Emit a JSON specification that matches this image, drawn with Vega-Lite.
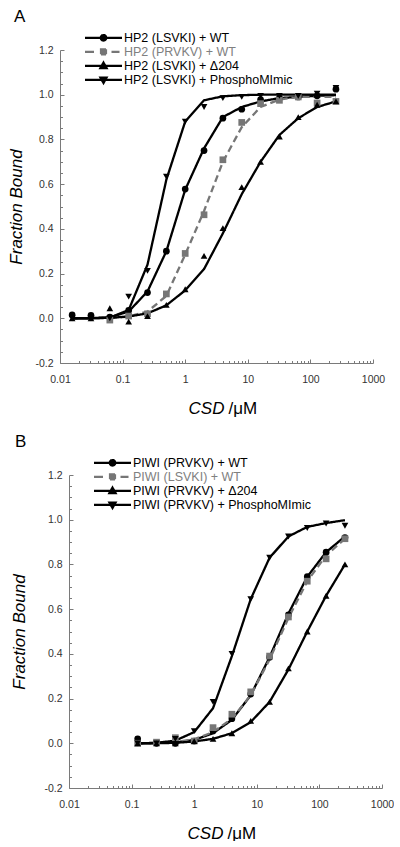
{
  "$schema": "https://vega.github.io/schema/vega-lite/v6.json",
  "background": "white",
  "padding": {"left": 7, "top": 8, "right": 0, "bottom": 0},
  "spacing": 17,
  "config": {
    "view": {"stroke": null},
    "font": "Liberation Sans",
    "axis": {
      "grid": false,
      "labelFont": "Liberation Sans",
      "labelFontSize": 10.5,
      "labelColor": "#333333",
      "domainColor": "#7a7a7a",
      "tickColor": "#7a7a7a",
      "titleFont": "Liberation Sans",
      "titleFontSize": 17,
      "titleFontWeight": "normal",
      "titleColor": "black"
    }
  },
  "resolve": {
    "scale": {"color": "independent", "shape": "independent", "strokeDash": "independent", "opacity": "independent"},
    "legend": {"color": "independent", "opacity": "independent"}
  },
  "vconcat": [
    {
      "width": 313,
      "height": 313,
      "title": {"text": "A", "anchor": "start", "frame": "group", "dx": -46, "offset": 5.3, "fontSize": 17, "fontWeight": "normal", "font": "Liberation Sans", "color": "black"},
      "data": {"values": [
        {"series": "HP2 (LSVKI) + WT", "conc": 0.015625, "bound": 0.015, "fit": 0.0},
        {"series": "HP2 (LSVKI) + WT", "conc": 0.03125, "bound": 0.013, "fit": 0.001},
        {"series": "HP2 (LSVKI) + WT", "conc": 0.0625, "bound": 0.005, "fit": 0.004},
        {"series": "HP2 (LSVKI) + WT", "conc": 0.125, "bound": 0.035, "fit": 0.03},
        {"series": "HP2 (LSVKI) + WT", "conc": 0.25, "bound": 0.115, "fit": 0.12},
        {"series": "HP2 (LSVKI) + WT", "conc": 0.5, "bound": 0.30, "fit": 0.30},
        {"series": "HP2 (LSVKI) + WT", "conc": 1, "bound": 0.578, "fit": 0.575},
        {"series": "HP2 (LSVKI) + WT", "conc": 2, "bound": 0.75, "fit": 0.76},
        {"series": "HP2 (LSVKI) + WT", "conc": 4, "bound": 0.895, "fit": 0.90},
        {"series": "HP2 (LSVKI) + WT", "conc": 8, "bound": 0.935, "fit": 0.945},
        {"series": "HP2 (LSVKI) + WT", "conc": 16, "bound": 0.978, "fit": 0.97},
        {"series": "HP2 (LSVKI) + WT", "conc": 32, "bound": 0.985, "fit": 0.985},
        {"series": "HP2 (LSVKI) + WT", "conc": 64, "bound": 0.99, "fit": 0.99},
        {"series": "HP2 (LSVKI) + WT", "conc": 128, "bound": 0.995, "fit": 0.995},
        {"series": "HP2 (LSVKI) + WT", "conc": 256, "bound": 1.025, "fit": 0.998},
        {"series": "HP2 (PRVKV) + WT", "conc": 0.0625, "bound": -0.008, "fit": 0.0},
        {"series": "HP2 (PRVKV) + WT", "conc": 0.125, "bound": 0.01, "fit": 0.008},
        {"series": "HP2 (PRVKV) + WT", "conc": 0.25, "bound": 0.02, "fit": 0.03},
        {"series": "HP2 (PRVKV) + WT", "conc": 0.5, "bound": 0.109, "fit": 0.1},
        {"series": "HP2 (PRVKV) + WT", "conc": 1, "bound": 0.29, "fit": 0.285},
        {"series": "HP2 (PRVKV) + WT", "conc": 2, "bound": 0.463, "fit": 0.48},
        {"series": "HP2 (PRVKV) + WT", "conc": 4, "bound": 0.709, "fit": 0.70},
        {"series": "HP2 (PRVKV) + WT", "conc": 8, "bound": 0.876, "fit": 0.855},
        {"series": "HP2 (PRVKV) + WT", "conc": 16, "bound": 0.96, "fit": 0.945},
        {"series": "HP2 (PRVKV) + WT", "conc": 32, "bound": 0.975, "fit": 0.978},
        {"series": "HP2 (PRVKV) + WT", "conc": 64, "bound": 0.99, "fit": 0.99},
        {"series": "HP2 (PRVKV) + WT", "conc": 128, "bound": 0.963, "fit": 0.99},
        {"series": "HP2 (PRVKV) + WT", "conc": 256, "bound": 0.97, "fit": 0.99},
        {"series": "HP2 (LSVKI) + Δ204", "conc": 0.015625, "bound": 0.0, "fit": 0.0},
        {"series": "HP2 (LSVKI) + Δ204", "conc": 0.03125, "bound": 0.0, "fit": 0.0},
        {"series": "HP2 (LSVKI) + Δ204", "conc": 0.0625, "bound": 0.045, "fit": 0.002},
        {"series": "HP2 (LSVKI) + Δ204", "conc": 0.125, "bound": -0.015, "fit": 0.008},
        {"series": "HP2 (LSVKI) + Δ204", "conc": 0.25, "bound": 0.01, "fit": 0.022},
        {"series": "HP2 (LSVKI) + Δ204", "conc": 0.5, "bound": 0.06, "fit": 0.058},
        {"series": "HP2 (LSVKI) + Δ204", "conc": 1, "bound": 0.13, "fit": 0.125},
        {"series": "HP2 (LSVKI) + Δ204", "conc": 2, "bound": 0.279, "fit": 0.22},
        {"series": "HP2 (LSVKI) + Δ204", "conc": 4, "bound": 0.403, "fit": 0.38},
        {"series": "HP2 (LSVKI) + Δ204", "conc": 8, "bound": 0.587, "fit": 0.555},
        {"series": "HP2 (LSVKI) + Δ204", "conc": 16, "bound": 0.70, "fit": 0.70},
        {"series": "HP2 (LSVKI) + Δ204", "conc": 32, "bound": 0.813, "fit": 0.82},
        {"series": "HP2 (LSVKI) + Δ204", "conc": 64, "bound": 0.90, "fit": 0.895},
        {"series": "HP2 (LSVKI) + Δ204", "conc": 128, "bound": 0.955, "fit": 0.945},
        {"series": "HP2 (LSVKI) + Δ204", "conc": 256, "bound": 0.97, "fit": 0.97},
        {"series": "HP2 (LSVKI) + PhosphoMImic", "conc": 0.015625, "bound": 0.0, "fit": 0.0},
        {"series": "HP2 (LSVKI) + PhosphoMImic", "conc": 0.03125, "bound": 0.0, "fit": 0.0},
        {"series": "HP2 (LSVKI) + PhosphoMImic", "conc": 0.0625, "bound": 0.0, "fit": 0.003},
        {"series": "HP2 (LSVKI) + PhosphoMImic", "conc": 0.125, "bound": 0.097, "fit": 0.037},
        {"series": "HP2 (LSVKI) + PhosphoMImic", "conc": 0.25, "bound": 0.212, "fit": 0.24},
        {"series": "HP2 (LSVKI) + PhosphoMImic", "conc": 0.5, "bound": 0.634, "fit": 0.62},
        {"series": "HP2 (LSVKI) + PhosphoMImic", "conc": 1, "bound": 0.88, "fit": 0.88},
        {"series": "HP2 (LSVKI) + PhosphoMImic", "conc": 2, "bound": 0.945, "fit": 0.975},
        {"series": "HP2 (LSVKI) + PhosphoMImic", "conc": 4, "bound": 0.985, "fit": 0.993},
        {"series": "HP2 (LSVKI) + PhosphoMImic", "conc": 8, "bound": 0.99, "fit": 0.998},
        {"series": "HP2 (LSVKI) + PhosphoMImic", "conc": 16, "bound": 0.995, "fit": 1.0},
        {"series": "HP2 (LSVKI) + PhosphoMImic", "conc": 32, "bound": 0.995, "fit": 1.0},
        {"series": "HP2 (LSVKI) + PhosphoMImic", "conc": 64, "bound": 0.995, "fit": 1.0},
        {"series": "HP2 (LSVKI) + PhosphoMImic", "conc": 128, "bound": 1.005, "fit": 1.0},
        {"series": "HP2 (LSVKI) + PhosphoMImic", "conc": 256, "bound": 1.03, "fit": 1.0}
      ]},
      "resolve": {"axis": {"x": "independent", "y": "independent"}},
      "layer": [
        {
          "mark": {"type": "line", "strokeWidth": 2.3},
          "encoding": {
            "x": {"field": "conc", "type": "quantitative",
              "scale": {"type": "log", "domain": [0.01, 1000], "nice": false},
              "axis": {"orient": "bottom", "values": [0.01, 0.1, 1, 10, 100, 1000], "labelExpr": "format(datum.value, '~g')", "tickSize": -4, "labelPadding": 15.5, "labelFlush": false, "labelOverlap": false,
                "title": "/μM", "titleX": 168, "titleY": 50, "titleAlign": "left", "titleBaseline": "alphabetic", "titleFontStyle": "normal"}},
            "y": {"field": "fit", "type": "quantitative",
              "scale": {"domain": [-0.2, 1.2], "nice": false, "zero": false},
              "axis": {"orient": "left", "values": [-0.2, 0, 0.2, 0.4, 0.6, 0.8, 1.0, 1.2], "labelExpr": "replace(format(datum.value, '.1f'), '\u2212', '-')", "tickSize": -4, "labelPadding": 11,
                "title": "Fraction Bound", "titleFontStyle": "italic", "titlePadding": 9.3}},
            "color": {"field": "series", "type": "nominal", "legend": null,
              "scale": {"domain": ["HP2 (LSVKI) + WT", "HP2 (PRVKV) + WT", "HP2 (LSVKI) + Δ204", "HP2 (LSVKI) + PhosphoMImic"], "range": ["black", "#767676", "black", "black"]}},
            "strokeDash": {"field": "series", "type": "nominal", "legend": null,
              "scale": {"domain": ["HP2 (LSVKI) + WT", "HP2 (PRVKV) + WT", "HP2 (LSVKI) + Δ204", "HP2 (LSVKI) + PhosphoMImic"], "range": [[1, 0], [7, 4], [1, 0], [1, 0]]}},
            "opacity": {"field": "series", "type": "nominal", "scale": {"range": [1, 1, 1, 1]},
              "legend": {"orient": "none", "legendX": 37, "legendY": -18.7, "title": null, "padding": 0, "symbolSize": 100, "symbolStrokeWidth": 2.2,
                "values": ["HP2 (LSVKI) + WT", "HP2 (PRVKV) + WT", "HP2 (LSVKI) + Δ204", "HP2 (LSVKI) + PhosphoMImic"],
                "labelFont": "Liberation Sans", "labelFontSize": 12.5, "labelOffset": 14, "labelLimit": 400, "rowPadding": -2.4,
                "encode": {
                  "symbols": {"update": {
                    "shape": {"signal": "datum.value === 'HP2 (LSVKI) + WT' ? 'M-3.7,0H3.7M-0.55,0A0.55,0.55 0 1,1 0.55,0A0.55,0.55 0 1,1 -0.55,0Z' : datum.value === 'HP2 (PRVKV) + WT' ? 'M-3.7,0H-1.9M1.6,0H3.2M-0.5,-0.5H0.5V0.5H-0.5Z' : datum.value === 'HP2 (LSVKI) + Δ204' ? 'M-3.7,0H3.7M0,-0.65L0.62,0.45L-0.62,0.45Z' : 'M-3.7,0H3.7M0,0.65L0.62,-0.45L-0.62,-0.45Z'"},
                    "fill": {"signal": "datum.value === 'HP2 (PRVKV) + WT' ? '#767676' : 'black'"},
                    "stroke": {"signal": "datum.value === 'HP2 (PRVKV) + WT' ? '#767676' : 'black'"},
                    "strokeWidth": {"value": 2.2},
                    "strokeDash": {"value": [1, 0]},
                    "size": {"value": 100}
                  }},
                  "labels": {"update": {"fill": {"signal": "datum.value === 'HP2 (PRVKV) + WT' ? '#808080' : 'black'"}}}
                }}}
          }
        },
        {
          "mark": {"type": "point", "filled": true, "opacity": 1, "size": 45},
          "encoding": {
            "x": {"field": "conc", "type": "quantitative",
              "axis": {"orient": "bottom", "values": [0.02, 0.03, 0.04, 0.05, 0.06, 0.07, 0.08, 0.09, 0.2, 0.3, 0.4, 0.5, 0.6, 0.7, 0.8, 0.9, 2, 3, 4, 5, 6, 7, 8, 9, 20, 30, 40, 50, 60, 70, 80, 90, 200, 300, 400, 500, 600, 700, 800, 900], "labels": false, "domain": false, "tickSize": -2.5,
                "title": "CSD", "titleX": 164, "titleY": 50, "titleAlign": "right", "titleBaseline": "alphabetic", "titleFontStyle": "italic"}},
            "y": {"field": "bound", "type": "quantitative",
              "axis": {"orient": "left", "values": [-0.15, -0.1, -0.05, 0.05, 0.1, 0.15, 0.25, 0.3, 0.35, 0.45, 0.5, 0.55, 0.65, 0.7, 0.75, 0.85, 0.9, 0.95, 1.05, 1.1, 1.15], "labels": false, "domain": false, "tickSize": -2.5, "title": null}},
            "color": {"field": "series", "type": "nominal", "legend": null},
            "shape": {"field": "series", "type": "nominal", "legend": null,
              "scale": {"domain": ["HP2 (LSVKI) + WT", "HP2 (PRVKV) + WT", "HP2 (LSVKI) + Δ204", "HP2 (LSVKI) + PhosphoMImic"], "range": ["circle", "square", "triangle-up", "triangle-down"]}}
          }
        }
      ]
    },
    {
      "width": 322,
      "height": 313,
      "title": {"text": "B", "anchor": "start", "frame": "group", "dx": -45, "offset": 5.3, "fontSize": 17, "fontWeight": "normal", "font": "Liberation Sans", "color": "black"},
      "data": {"values": [
        {"series": "PIWI (PRVKV) + WT", "conc": 0.125, "bound": 0.02, "fit": 0.0},
        {"series": "PIWI (PRVKV) + WT", "conc": 0.25, "bound": 0.0, "fit": 0.001},
        {"series": "PIWI (PRVKV) + WT", "conc": 0.5, "bound": 0.0, "fit": 0.004},
        {"series": "PIWI (PRVKV) + WT", "conc": 1, "bound": 0.01, "fit": 0.015},
        {"series": "PIWI (PRVKV) + WT", "conc": 2, "bound": 0.055, "fit": 0.045},
        {"series": "PIWI (PRVKV) + WT", "conc": 4, "bound": 0.11, "fit": 0.105},
        {"series": "PIWI (PRVKV) + WT", "conc": 8, "bound": 0.22, "fit": 0.215},
        {"series": "PIWI (PRVKV) + WT", "conc": 16, "bound": 0.385, "fit": 0.385},
        {"series": "PIWI (PRVKV) + WT", "conc": 32, "bound": 0.575, "fit": 0.58},
        {"series": "PIWI (PRVKV) + WT", "conc": 64, "bound": 0.745, "fit": 0.745},
        {"series": "PIWI (PRVKV) + WT", "conc": 128, "bound": 0.855, "fit": 0.855},
        {"series": "PIWI (PRVKV) + WT", "conc": 256, "bound": 0.92, "fit": 0.925},
        {"series": "PIWI (LSVKI) + WT", "conc": 0.125, "bound": 0.0, "fit": 0.0},
        {"series": "PIWI (LSVKI) + WT", "conc": 0.25, "bound": 0.005, "fit": 0.002},
        {"series": "PIWI (LSVKI) + WT", "conc": 0.5, "bound": 0.025, "fit": 0.006},
        {"series": "PIWI (LSVKI) + WT", "conc": 1, "bound": 0.01, "fit": 0.018},
        {"series": "PIWI (LSVKI) + WT", "conc": 2, "bound": 0.07, "fit": 0.05},
        {"series": "PIWI (LSVKI) + WT", "conc": 4, "bound": 0.13, "fit": 0.11},
        {"series": "PIWI (LSVKI) + WT", "conc": 8, "bound": 0.23, "fit": 0.215},
        {"series": "PIWI (LSVKI) + WT", "conc": 16, "bound": 0.39, "fit": 0.375},
        {"series": "PIWI (LSVKI) + WT", "conc": 32, "bound": 0.565, "fit": 0.56},
        {"series": "PIWI (LSVKI) + WT", "conc": 64, "bound": 0.725, "fit": 0.725},
        {"series": "PIWI (LSVKI) + WT", "conc": 128, "bound": 0.825, "fit": 0.84},
        {"series": "PIWI (LSVKI) + WT", "conc": 256, "bound": 0.915, "fit": 0.915},
        {"series": "PIWI (PRVKV) + Δ204", "conc": 0.125, "bound": 0.0, "fit": 0.0},
        {"series": "PIWI (PRVKV) + Δ204", "conc": 0.25, "bound": 0.0, "fit": 0.0},
        {"series": "PIWI (PRVKV) + Δ204", "conc": 0.5, "bound": 0.0, "fit": 0.002},
        {"series": "PIWI (PRVKV) + Δ204", "conc": 1, "bound": 0.01, "fit": 0.008},
        {"series": "PIWI (PRVKV) + Δ204", "conc": 2, "bound": 0.02, "fit": 0.02},
        {"series": "PIWI (PRVKV) + Δ204", "conc": 4, "bound": 0.045, "fit": 0.045},
        {"series": "PIWI (PRVKV) + Δ204", "conc": 8, "bound": 0.10, "fit": 0.095},
        {"series": "PIWI (PRVKV) + Δ204", "conc": 16, "bound": 0.185, "fit": 0.185},
        {"series": "PIWI (PRVKV) + Δ204", "conc": 32, "bound": 0.335, "fit": 0.33},
        {"series": "PIWI (PRVKV) + Δ204", "conc": 64, "bound": 0.50, "fit": 0.50},
        {"series": "PIWI (PRVKV) + Δ204", "conc": 128, "bound": 0.66, "fit": 0.66},
        {"series": "PIWI (PRVKV) + Δ204", "conc": 256, "bound": 0.80, "fit": 0.80},
        {"series": "PIWI (PRVKV) + PhosphoMImic", "conc": 0.125, "bound": 0.0, "fit": 0.0},
        {"series": "PIWI (PRVKV) + PhosphoMImic", "conc": 0.25, "bound": 0.0, "fit": 0.002},
        {"series": "PIWI (PRVKV) + PhosphoMImic", "conc": 0.5, "bound": 0.02, "fit": 0.012},
        {"series": "PIWI (PRVKV) + PhosphoMImic", "conc": 1, "bound": 0.054, "fit": 0.05},
        {"series": "PIWI (PRVKV) + PhosphoMImic", "conc": 2, "bound": 0.185, "fit": 0.157},
        {"series": "PIWI (PRVKV) + PhosphoMImic", "conc": 4, "bound": 0.40, "fit": 0.39},
        {"series": "PIWI (PRVKV) + PhosphoMImic", "conc": 8, "bound": 0.645, "fit": 0.645},
        {"series": "PIWI (PRVKV) + PhosphoMImic", "conc": 16, "bound": 0.83, "fit": 0.83},
        {"series": "PIWI (PRVKV) + PhosphoMImic", "conc": 32, "bound": 0.925, "fit": 0.925},
        {"series": "PIWI (PRVKV) + PhosphoMImic", "conc": 64, "bound": 0.963, "fit": 0.968},
        {"series": "PIWI (PRVKV) + PhosphoMImic", "conc": 128, "bound": 0.983, "fit": 0.985},
        {"series": "PIWI (PRVKV) + PhosphoMImic", "conc": 256, "bound": 0.973, "fit": 0.998}
      ]},
      "resolve": {"axis": {"x": "independent", "y": "independent"}},
      "layer": [
        {
          "mark": {"type": "line", "strokeWidth": 2.3},
          "encoding": {
            "x": {"field": "conc", "type": "quantitative",
              "scale": {"type": "log", "domain": [0.01, 1000], "nice": false, "range": [9, 322]},
              "axis": {"orient": "bottom", "values": [0.01, 0.1, 1, 10, 100, 1000], "labelExpr": "format(datum.value, '~g')", "tickSize": -4, "labelPadding": 15.5, "labelFlush": false, "labelOverlap": false,
                "title": "/μM", "titleX": 167, "titleY": 50, "titleAlign": "left", "titleBaseline": "alphabetic", "titleFontStyle": "normal"}},
            "y": {"field": "fit", "type": "quantitative",
              "scale": {"domain": [-0.2, 1.2], "nice": false, "zero": false},
              "axis": {"orient": "left", "offset": -9, "values": [-0.2, 0, 0.2, 0.4, 0.6, 0.8, 1.0, 1.2], "labelExpr": "replace(format(datum.value, '.1f'), '\u2212', '-')", "tickSize": -4, "labelPadding": 11,
                "title": "Fraction Bound", "titleFontStyle": "italic", "titlePadding": 15.5}},
            "color": {"field": "series", "type": "nominal", "legend": null,
              "scale": {"domain": ["PIWI (PRVKV) + WT", "PIWI (LSVKI) + WT", "PIWI (PRVKV) + Δ204", "PIWI (PRVKV) + PhosphoMImic"], "range": ["black", "#767676", "black", "black"]}},
            "strokeDash": {"field": "series", "type": "nominal", "legend": null,
              "scale": {"domain": ["PIWI (PRVKV) + WT", "PIWI (LSVKI) + WT", "PIWI (PRVKV) + Δ204", "PIWI (PRVKV) + PhosphoMImic"], "range": [[1, 0], [7, 4], [1, 0], [1, 0]]}},
            "opacity": {"field": "series", "type": "nominal", "scale": {"range": [1, 1, 1, 1]},
              "legend": {"orient": "none", "legendX": 46, "legendY": -18.7, "title": null, "padding": 0, "symbolSize": 100, "symbolStrokeWidth": 2.2,
                "values": ["PIWI (PRVKV) + WT", "PIWI (LSVKI) + WT", "PIWI (PRVKV) + Δ204", "PIWI (PRVKV) + PhosphoMImic"],
                "labelFont": "Liberation Sans", "labelFontSize": 12.5, "labelOffset": 14, "labelLimit": 400, "rowPadding": -2.4,
                "encode": {
                  "symbols": {"update": {
                    "shape": {"signal": "datum.value === 'PIWI (PRVKV) + WT' ? 'M-3.7,0H3.7M-0.55,0A0.55,0.55 0 1,1 0.55,0A0.55,0.55 0 1,1 -0.55,0Z' : datum.value === 'PIWI (LSVKI) + WT' ? 'M-3.7,0H-1.9M1.6,0H3.2M-0.5,-0.5H0.5V0.5H-0.5Z' : datum.value === 'PIWI (PRVKV) + Δ204' ? 'M-3.7,0H3.7M0,-0.65L0.62,0.45L-0.62,0.45Z' : 'M-3.7,0H3.7M0,0.65L0.62,-0.45L-0.62,-0.45Z'"},
                    "fill": {"signal": "datum.value === 'PIWI (LSVKI) + WT' ? '#767676' : 'black'"},
                    "stroke": {"signal": "datum.value === 'PIWI (LSVKI) + WT' ? '#767676' : 'black'"},
                    "strokeWidth": {"value": 2.2},
                    "strokeDash": {"value": [1, 0]},
                    "size": {"value": 100}
                  }},
                  "labels": {"update": {"fill": {"signal": "datum.value === 'PIWI (LSVKI) + WT' ? '#808080' : 'black'"}}}
                }}}
          }
        },
        {
          "mark": {"type": "point", "filled": true, "opacity": 1, "size": 45},
          "encoding": {
            "x": {"field": "conc", "type": "quantitative",
              "axis": {"orient": "bottom", "values": [0.02, 0.03, 0.04, 0.05, 0.06, 0.07, 0.08, 0.09, 0.2, 0.3, 0.4, 0.5, 0.6, 0.7, 0.8, 0.9, 2, 3, 4, 5, 6, 7, 8, 9, 20, 30, 40, 50, 60, 70, 80, 90, 200, 300, 400, 500, 600, 700, 800, 900], "labels": false, "domain": false, "tickSize": -2.5,
                "title": "CSD", "titleX": 163, "titleY": 50, "titleAlign": "right", "titleBaseline": "alphabetic", "titleFontStyle": "italic"}},
            "y": {"field": "bound", "type": "quantitative",
              "axis": {"orient": "left", "offset": -9, "values": [-0.15, -0.1, -0.05, 0.05, 0.1, 0.15, 0.25, 0.3, 0.35, 0.45, 0.5, 0.55, 0.65, 0.7, 0.75, 0.85, 0.9, 0.95, 1.05, 1.1, 1.15], "labels": false, "domain": false, "tickSize": -2.5, "title": null}},
            "color": {"field": "series", "type": "nominal", "legend": null},
            "shape": {"field": "series", "type": "nominal", "legend": null,
              "scale": {"domain": ["PIWI (PRVKV) + WT", "PIWI (LSVKI) + WT", "PIWI (PRVKV) + Δ204", "PIWI (PRVKV) + PhosphoMImic"], "range": ["circle", "square", "triangle-up", "triangle-down"]}}
          }
        }
      ]
    }
  ]
}
